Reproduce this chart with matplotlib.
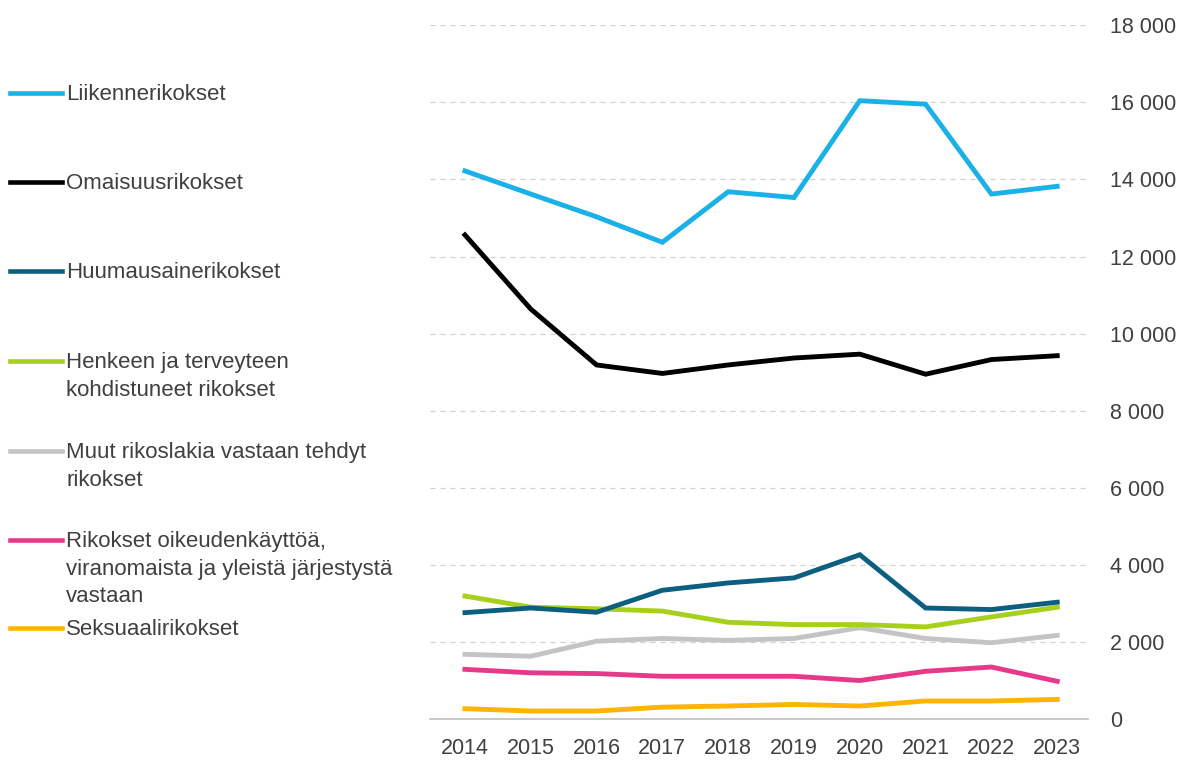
import matplotlib.pyplot as plt
from matplotlib.lines import Line2D
from matplotlib.ticker import FuncFormatter

plt.rcParams['font.family'] = ['Liberation Sans', 'DejaVu Sans']

years = list(range(2014, 2024))

liikenne = [14220, 13620, 13030, 12370, 13680, 13530, 16040, 15950, 13620, 13820]
omaisuus = [12560, 10640, 9190, 8970, 9190, 9370, 9470, 8950, 9330, 9430]
huumaus = [2770, 2890, 2780, 3350, 3540, 3670, 4270, 2890, 2850, 3040]
henkeen = [3200, 2910, 2870, 2810, 2520, 2460, 2460, 2400, 2660, 2910]
muut = [1690, 1640, 2030, 2100, 2050, 2100, 2380, 2100, 1990, 2180]
oikeus = [1300, 1210, 1190, 1120, 1120, 1120, 1010, 1250, 1360, 990]
seksuaali = [280, 220, 220, 320, 350, 390, 350, 480, 480, 520]

labels = [
    "Liikennerikokset",
    "Omaisuusrikokset",
    "Huumausainerikokset",
    "Henkeen ja terveyteen\nkohdistuneet rikokset",
    "Muut rikoslakia vastaan tehdyt\nrikokset",
    "Rikokset oikeudenkäyttöä,\nviranomaista ja yleistä järjestystä\nvastaan",
    "Seksuaalirikokset",
]
colors = ["#1ab0e8", "#000000", "#0d5f80", "#a6d01c", "#c4c4c4", "#e8388a", "#ffb400"]
series = [liikenne, omaisuus, huumaus, henkeen, muut, oikeus, seksuaali]

fig = plt.figure(figsize=(11.89, 7.6), dpi=100)
ax = fig.add_axes([0.3617, 0.0533, 0.5535, 0.9137])

# small series first so the big lines sit on top
for vals, c in reversed(list(zip(series, colors))):
    ax.plot(years, vals, color=c, lw=3.5, solid_joinstyle='miter')

ax.set_xlim(2013.47, 2023.47)
ax.set_ylim(0, 18000)
ax.set_yticks(range(0, 18001, 2000))
ax.set_xticks(years)
ax.yaxis.tick_right()
ax.yaxis.set_major_formatter(FuncFormatter(lambda v, p: f"{int(v):,}".replace(",", " ")))
for y in range(2000, 18001, 2000):
    ax.axhline(y, color="#d0d0d0", lw=0.9, ls=(0, (4, 4)), zorder=0)

for s in ["top", "left", "right"]:
    ax.spines[s].set_visible(False)
ax.spines["bottom"].set_color("#bfbfbf")
ax.spines["bottom"].set_linewidth(1.2)
ax.tick_params(axis="both", length=0, labelsize=15.5, labelcolor="#404040")
ax.tick_params(axis="y", pad=16)
ax.tick_params(axis="x", pad=13)
for t in ax.get_yticklabels():
    t.set_horizontalalignment("left")

# legend on the left, drawn by hand (pixel rows of the line samples)
W, H = 1189, 760
legend_y = [93, 182, 271, 361, 451, 540, 628]
for lab, c, yy in zip(labels, colors, legend_y):
    fy = 1 - yy / H
    fig.add_artist(Line2D([10 / W, 62 / W], [fy, fy], color=c, lw=3.3,
                          transform=fig.transFigure))
    fig.text(66 / W, fy + 9 / H, lab, fontsize=16, color="#404040", va="top",
             linespacing=1.41)

fig.savefig("out.png", dpi=100)
